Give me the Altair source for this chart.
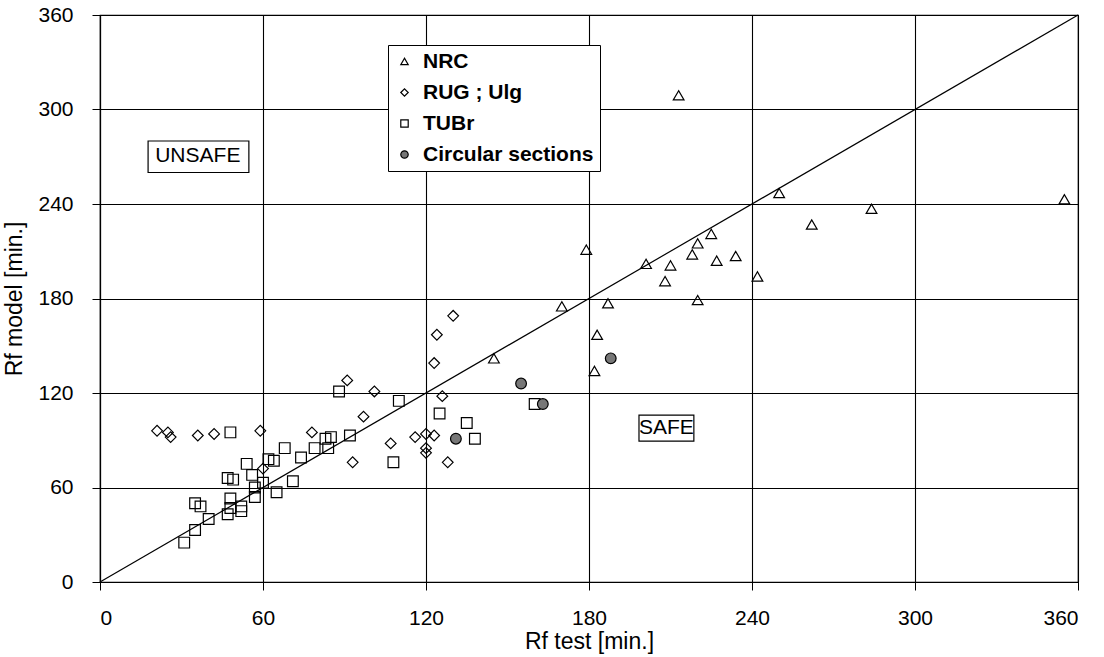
import altair as alt
import pandas as pd

# ---- data ----
series_names = ["NRC", "RUG ; Ulg", "TUBr", "Circular sections"]

nrc_x = [145, 170, 179, 182, 183, 187, 201, 208, 210, 213, 218, 220, 220, 225, 227, 234, 242, 250, 262, 284, 355]
nrc_y = [142, 175, 211, 134, 157, 177, 202, 191, 201, 309, 208, 215, 179, 221, 204, 207, 194, 247, 227, 237, 243]

rug_x = [21, 25, 26, 36, 42, 59, 60, 78, 91, 93, 97, 101, 107, 116, 120, 120, 120, 123, 123, 124, 126, 128, 130]
rug_y = [96, 95, 92, 93, 94, 96, 72, 95, 128, 76, 105, 121, 88, 92, 94, 85, 82, 93, 139, 157, 118, 76, 169]

tubr_x = [31, 35, 35, 37, 40, 47, 48, 48, 52, 52, 47, 49, 54, 56, 57, 57, 60, 48, 62, 64, 65, 68,
          71, 74, 79, 83, 85, 84, 88, 92, 108, 110, 125, 135, 138, 160]
tubr_y = [25, 33, 50, 48, 40, 43, 47, 53, 48, 45, 66, 65, 75, 68, 54, 60, 63, 95, 78, 77, 57, 85,
          64, 79, 85, 91, 92, 85, 121, 93, 76, 115, 107, 101, 91, 113]

circ_x = [131, 155, 163, 188]
circ_y = [91, 126, 113, 142]

ticks = [0, 60, 120, 180, 240, 300, 360]
diag_x = [0, 360]
diag_y = [0, 360]

note_text = ["UNSAFE", "SAFE"]
note_x = [36, 208.5]
note_y = [270.5, 97.8]
note_x1 = [17.7, 198.4]
note_x2 = [54.8, 218.6]
note_y1 = [260, 89.5]
note_y2 = [280, 106]

# ---- tables ----
df = pd.DataFrame({
    "x": nrc_x + rug_x + tubr_x + circ_x,
    "y": nrc_y + rug_y + tubr_y + circ_y,
    "series": [series_names[0]] * len(nrc_x) + [series_names[1]] * len(rug_x)
              + [series_names[2]] * len(tubr_x) + [series_names[3]] * len(circ_x),
})
diag = pd.DataFrame({"x": diag_x, "y": diag_y})
notes = pd.DataFrame({"x": note_x, "y": note_y, "x1": note_x1, "x2": note_x2,
                      "y1": note_y1, "y2": note_y2, "t": note_text})

FONT = "Liberation Sans"
xs = alt.Scale(domain=[0, 360], nice=False, zero=False)
ys = alt.Scale(domain=[0, 360], nice=False, zero=False)
xaxis = alt.Axis(values=ticks, title="Rf test [min.]", labelPadding=17, titlePadding=2)
yaxis = alt.Axis(values=ticks, title="Rf model [min.]", labelPadding=19, titlePadding=11)


def X(field):
    return alt.X(field, type="quantitative", scale=xs, axis=xaxis)


def Y(field):
    return alt.Y(field, type="quantitative", scale=ys, axis=yaxis)


leg = alt.Legend(title=None, orient="none", legendX=288, legendY=30,
                 labelFont=FONT, labelFontSize=21, labelFontWeight="bold", labelColor="black",
                 labelLimit=400, symbolSize=55, symbolStrokeWidth=1.2,
                 rowPadding=9, padding=6, labelOffset=8,
                 strokeColor="black", fillColor="white", cornerRadius=0)

line = alt.Chart(diag).mark_line(color="black", strokeWidth=1.2).encode(x=X("x"), y=Y("y"))

boxes = alt.Chart(notes).mark_rect(fill="white", stroke="black", strokeWidth=1.2).encode(
    x=X("x1"), x2="x2", y=Y("y1"), y2="y2")

texts = alt.Chart(notes).mark_text(font=FONT, fontSize=21, color="black",
                                   align="center", baseline="middle").encode(
    x=X("x"), y=Y("y"), text="t:N")

points = alt.Chart(df).mark_point(filled=True, strokeWidth=1.2, opacity=1, size=115).encode(
    x=X("x"), y=Y("y"),
    shape=alt.Shape("series:N", scale=alt.Scale(domain=series_names,
                    range=["triangle-up", "diamond", "square", "circle"]), legend=leg),
    fill=alt.Fill("series:N", scale=alt.Scale(domain=series_names,
                  range=["transparent", "transparent", "transparent", "#777777"]), legend=leg),
    stroke=alt.Stroke("series:N", scale=alt.Scale(domain=series_names,
                      range=["black", "black", "black", "black"]), legend=leg),
)

chart = alt.layer(boxes, texts, line, points).properties(
    width=978, height=567,
    autosize=alt.AutoSizeParams(type="none"),
    padding={"left": 100, "top": 15, "right": 26, "bottom": 75},
    background="white",
).configure_view(stroke="black", strokeWidth=1.2).configure_axis(
    labelFont=FONT, titleFont=FONT, labelFontSize=21, titleFontSize=23,
    titleFontWeight="normal", labelColor="black", titleColor="black",
    domainColor="black", tickColor="black", gridColor="black", gridOpacity=1,
    gridWidth=1.1, tickSize=8, domainWidth=1.2,
)

chart.save("out.html", embed_options={"renderer": "svg", "actions": False})
